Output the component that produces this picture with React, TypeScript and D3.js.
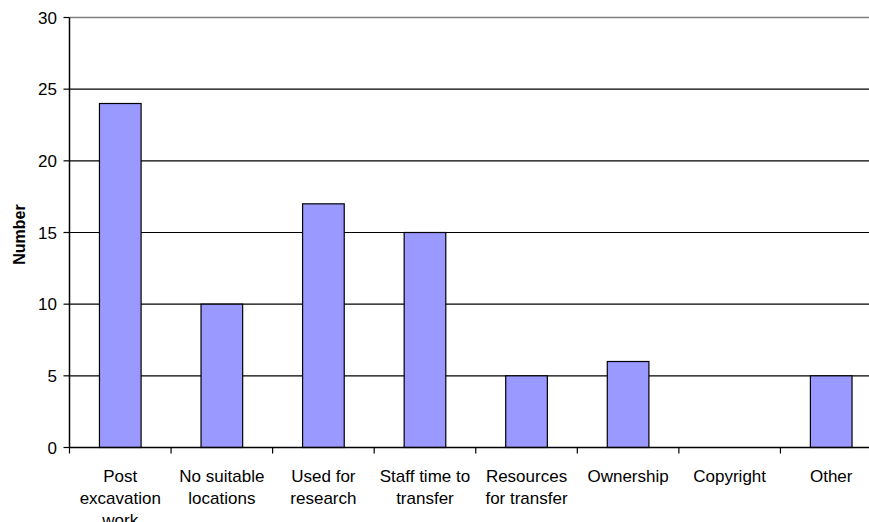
import React from "react";
import * as d3 from "d3";

const categories: string[][] = [
  ["Post", "excavation", "work"],
  ["No suitable", "locations"],
  ["Used for", "research"],
  ["Staff time to", "transfer"],
  ["Resources", "for transfer"],
  ["Ownership"],
  ["Copyright"],
  ["Other"],
];
const values: number[] = [24, 10, 17, 15, 5, 6, 0, 5];
const yTicks: number[] = [0, 5, 10, 15, 20, 25, 30];

const W = 869;
const H = 522;
const left = 69.5;
const right = 882;
const top = 17.5;
const bottom = 447.5;
const font = "'Liberation Sans', Arial, sans-serif";

export default function App() {
  const keys = categories.map((_, i) => String(i));
  const x = d3.scaleBand<string>().domain(keys).range([left, right]).paddingInner(0).paddingOuter(0);
  const y = d3.scaleLinear().domain([0, 30]).range([bottom, top]);
  const bw = x.bandwidth() * 0.41;

  return (
    <svg width={W} height={H} style={{ position: "absolute", left: 0, top: 0, display: "block" }} fontFamily={font}>
      <rect x={0} y={0} width={W} height={H} fill="#fff" />
      {yTicks.filter((t) => t > 0).map((t) => (
        <line key={"g" + t} x1={left} x2={right} y1={y(t)} y2={y(t)} stroke={t === 30 ? "#808080" : "#000"} strokeWidth={t === 30 ? 1.5 : 1.2} />
      ))}
      {values.map((v, i) => {
        const cx = (x(String(i)) as number) + x.bandwidth() / 2;
        if (v <= 0) return null;
        return (
          <rect key={"b" + i} x={cx - bw / 2} y={y(v)} width={bw} height={y(0) - y(v)} fill="#9999FF" stroke="#000" strokeWidth={1.2} />
        );
      })}
      <line x1={left} x2={left} y1={top} y2={bottom} stroke="#000" strokeWidth={1.5} />
      <line x1={left} x2={right} y1={bottom} y2={bottom} stroke="#000" strokeWidth={1.5} />
      {yTicks.map((t) => (
        <g key={"yt" + t}>
          <line x1={left - 6} x2={left} y1={y(t)} y2={y(t)} stroke="#000" strokeWidth={1.2} />
          <text x={left - 12.5} y={y(t)} dy="0.36em" textAnchor="end" fontSize={17}>{t}</text>
        </g>
      ))}
      {keys.map((k) => (
        <line key={"xt" + k} x1={x(k) as number} x2={x(k) as number} y1={bottom} y2={bottom + 6} stroke="#000" strokeWidth={1.2} />
      ))}
      {categories.map((lines, i) => {
        const cx = (x(String(i)) as number) + x.bandwidth() / 2;
        return (
          <text key={"xl" + i} x={cx} y={481.5} textAnchor="middle" fontSize={17}>
            {lines.map((l, j) => (
              <tspan key={j} x={cx} dy={j === 0 ? 0 : 22}>{l}</tspan>
            ))}
          </text>
        );
      })}
      <text transform={`translate(25,${(top + bottom) / 2 + 2}) rotate(-90)`} textAnchor="middle" fontSize={16} fontWeight="bold">Number</text>
    </svg>
  );
}
